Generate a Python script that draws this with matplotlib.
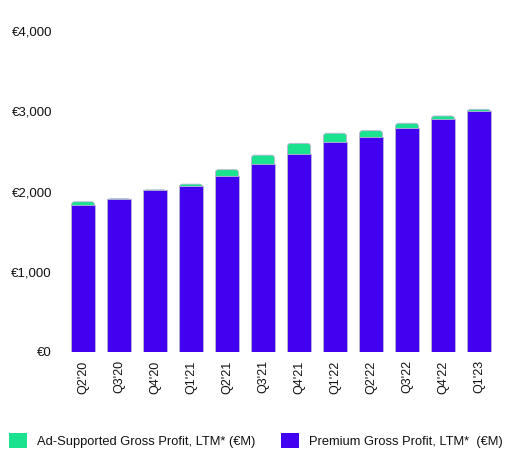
import numpy as np
import matplotlib.pyplot as plt
from matplotlib.patches import FancyBboxPatch, Patch

plt.rcParams['font.family'] = ['Liberation Sans', 'DejaVu Sans']
plt.rcParams['text.color'] = '#111111'

quarters = ["Q2'20", "Q3'20", "Q4'20", "Q1'21", "Q2'21", "Q3'21",
            "Q4'21", "Q1'22", "Q2'22", "Q3'22", "Q4'22", "Q1'23"]
premium_gp = [1832, 1908, 2019, 2072, 2197, 2343, 2467, 2613, 2683, 2795, 2900, 3007]
ad_gp = [40, 3, 2, 20, 75, 110, 133, 113, 75, 55, 41, 17]

PREMIUM = '#4100F0'
AD = '#1BE28E'
EDGE = '#b9b6d6'

W, H, DPI = 5.10, 4.49, 100
fig = plt.figure(figsize=(W, H), dpi=DPI)
ax = fig.add_axes([65 / 510, 1 - 352 / 449, 432 / 510, 321 / 449])

x = np.arange(len(quarters))
width = 0.64
ymax = 4000

# 軸の px サイズから角丸の縦横比を求める
px_per_x = 432 / len(quarters)
px_per_y = 321 / ymax
radius_px = 3.0
aspect = px_per_x / px_per_y


def rounded_top(ax, xc, bottom, height, color):
    # 下側の角はバーの内側に隠れるよう少し下に伸ばす
    r = radius_px / px_per_x
    ext = radius_px / px_per_y
    p = FancyBboxPatch((xc - width / 2, bottom - ext), width, height + ext,
                       boxstyle=f"round,pad=0,rounding_size={r}",
                       mutation_aspect=aspect, facecolor=color,
                       edgecolor=EDGE, linewidth=0.6)
    ax.add_patch(p)


for xi, p, a in zip(x, premium_gp, ad_gp):
    rounded_top(ax, xi, p, a, AD)
    ax.bar(xi, p, width=width, color=PREMIUM, edgecolor=EDGE, linewidth=0.6)

ax.set_xlim(-0.5, len(quarters) - 0.5)
ax.set_ylim(0, ymax)
ax.set_yticks([0, 1000, 2000, 3000, 4000])
ax.set_yticklabels(['€0', '€1,000', '€2,000', '€3,000', '€4,000'], fontsize=9.5)
ax.set_xticks(x)
ax.set_xticklabels(quarters, rotation=90, fontsize=9)
ax.tick_params(length=0, colors='#111111')
ax.tick_params(axis='x', pad=6)
ax.tick_params(axis='y', pad=9.4)
for s in ax.spines.values():
    s.set_visible(False)

handles = [Patch(facecolor=AD, edgecolor='none'),
           Patch(facecolor=PREMIUM, edgecolor='none')]
fig.legend(handles, ['Ad-Supported Gross Profit, LTM* (€M)',
                     'Premium Gross Profit, LTM*  (€M)'],
           loc='lower left', bbox_to_anchor=(-0.006, -0.024), ncol=2, frameon=False,
           fontsize=9.3, handlelength=1.4, handleheight=1.4,
           columnspacing=1.94, handletextpad=0.82)

fig.savefig('out.png', dpi=DPI)
